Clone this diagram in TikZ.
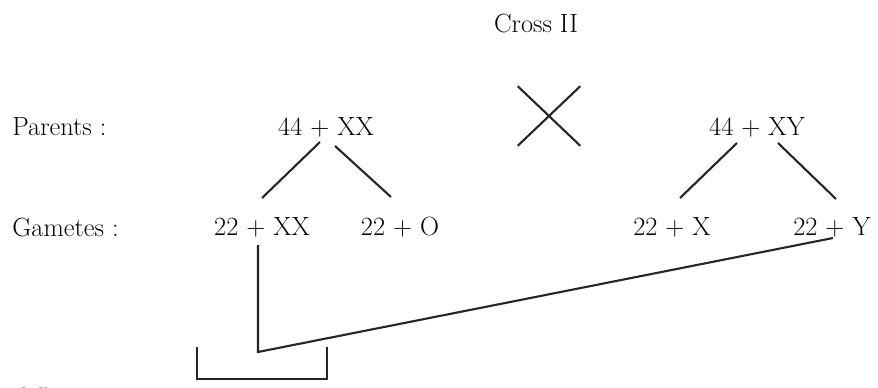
\documentclass[tikz,border=0pt]{standalone}
\usepackage{tikz}
\usetikzlibrary{positioning,calc}

\begin{document}
\begin{tikzpicture}[
  x=0.02cm, y=-0.02cm,
  rowlabel/.style={
    anchor=west,
    inner sep=0pt,
    font=\fontsize{15}{18}\selectfont
  },
  genotype/.style={
    inner sep=0pt,
    font=\fontsize{15}{18}\selectfont
  },
  link/.style={line width=1.2pt, draw=black!85}
]
\useasboundingbox (0,0) rectangle (878,388);
\clip (0,0) rectangle (878,388);

\node[genotype] (title) at (536,24) {Cross II};

\node[rowlabel] (parents) at (12,127) {Parents :};
\node[rowlabel] (gametes) at (12,227) {Gametes :};
\node[rowlabel, anchor=base west] (offspring) at (14,406) {Offspring :};

% parents
\node[genotype] (pxx) at (326,127) {44 + XX};
\node[genotype] (pxy) at (757,127) {44 + XY};
\node[inner sep=0pt, minimum width=1.24cm, minimum height=1.18cm] (cross) at (549,116) {};

% gametes
\node[genotype] (gxx) at (262,227) {22 + XX};
\node[genotype] (go)  at (400,227) {22 + O};
\node[genotype] (gx)  at (672,227) {22 + X};
\node[genotype] (gy)  at (832,227) {22 + Y};

% offspring bracket
\node[inner sep=0pt, minimum width=2.58cm, minimum height=0.64cm] (kids) at ($(gxx)+(0,136)$) {};
\coordinate (join) at ($(gxx)+(-4,125)$);

\draw[link] (cross.north west) -- (cross.south east);
\draw[link] (cross.north east) -- (cross.south west);

\draw[link] ($(pxx)+(-6,15)$) -- ($(gxx)+(0,-29)$);
\draw[link] ($(pxx)+(9,19)$) -- ($(go)+(-9,-30)$);
\draw[link] ($(pxy)+(-20,16)$) -- ($(gx)+(8,-29)$);
\draw[link] ($(pxy)+(21,16)$) -- ($(gy)+(4,-28)$);

\draw[link] ($(gxx)+(-4,18)$) -- (join) -- ($(gy)+(1,11)$);
\draw[link] (kids.north west) |- (kids.south east) -- (kids.north east);

\end{tikzpicture}
\end{document}
